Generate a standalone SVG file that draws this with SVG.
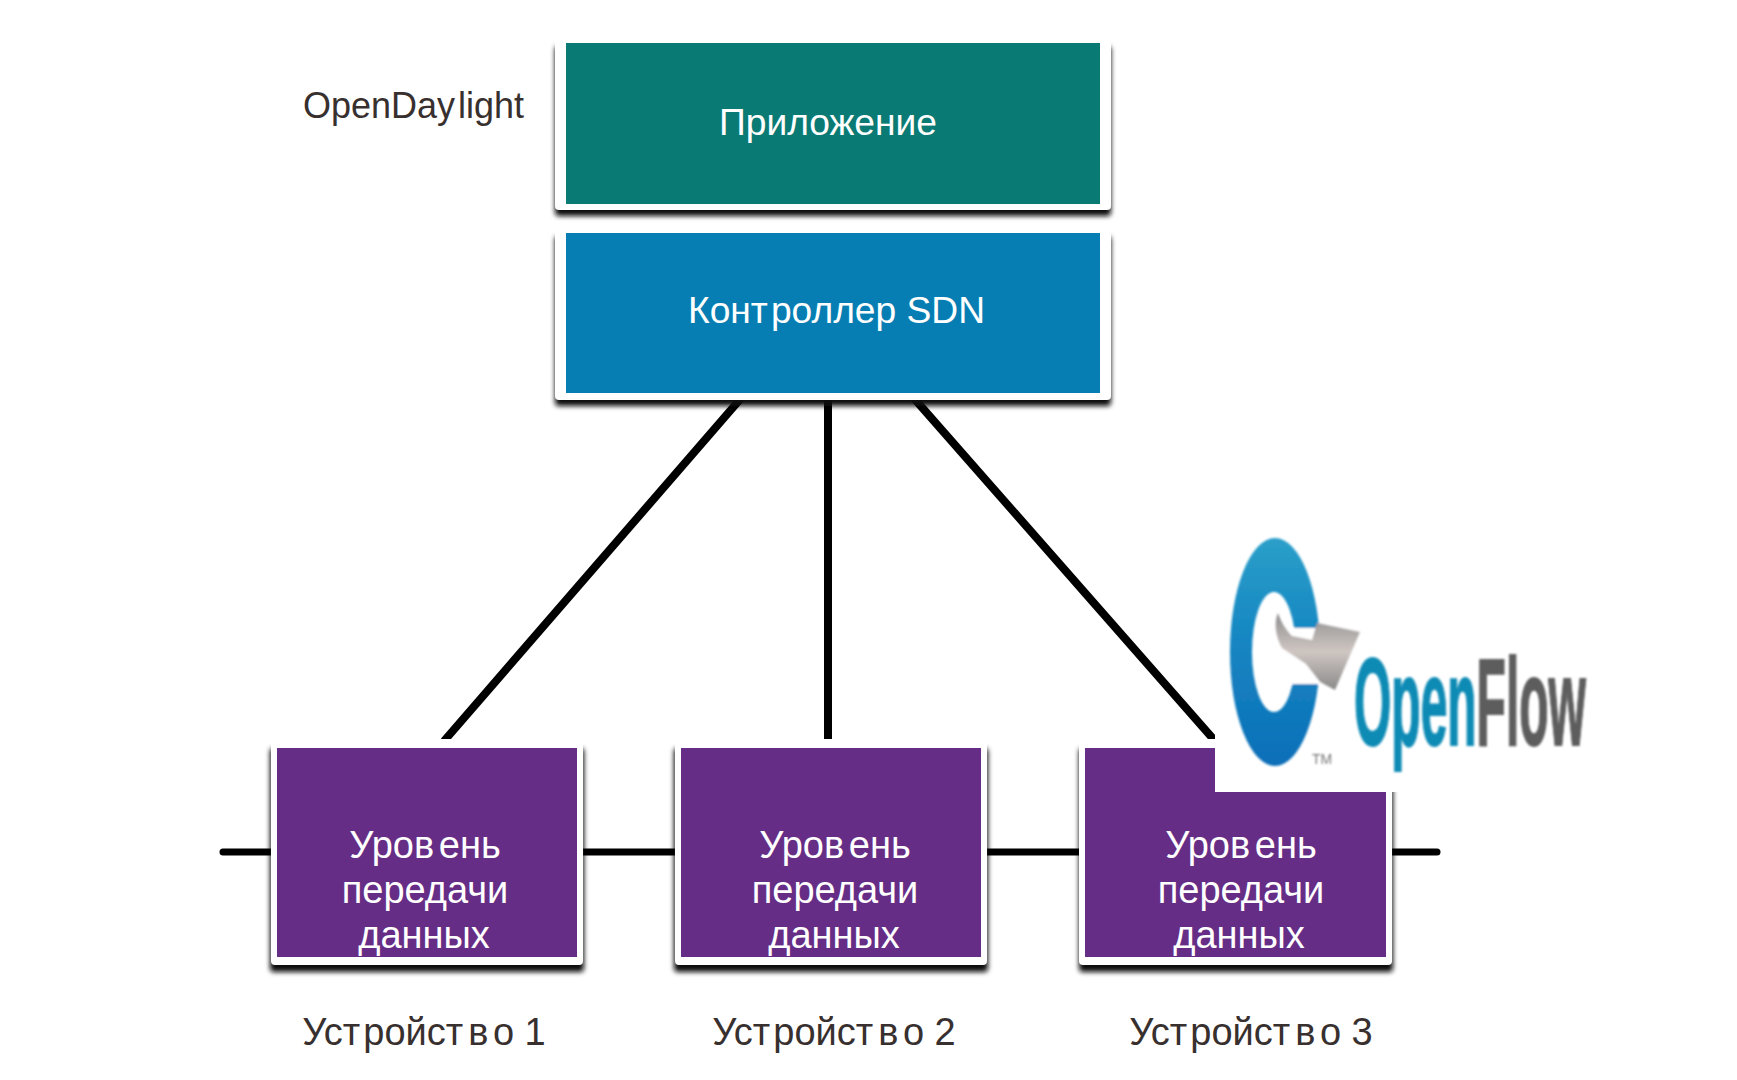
<svg xmlns="http://www.w3.org/2000/svg" width="1737" height="1080" viewBox="0 0 1737 1080">
<style>
text{font-family:"Liberation Sans",Arial,sans-serif}
.w{fill:#fff;font-size:38px}
.t{fill:#fff;font-size:37px}
.d{fill:#38302f;font-size:38px}
.frame{fill:#fff}
.sh{fill:#111;filter:url(#blur)}
.link{stroke:#000;stroke-width:8;fill:none}
</style>
<defs>
<filter id="blur" x="-5%" y="-5%" width="110%" height="110%"><feGaussianBlur stdDeviation="2.5"/></filter>
<filter id="soft" x="-5%" y="-5%" width="110%" height="110%"><feGaussianBlur stdDeviation="0.9"/></filter>
<clipPath id="cut"><rect x="0" y="395" width="1737" height="344"/></clipPath>
<linearGradient id="ring" x1="0" y1="0" x2="0" y2="1"><stop offset="0" stop-color="#2b9fc9"/><stop offset=".45" stop-color="#1586c2"/><stop offset="1" stop-color="#0e6fb8"/></linearGradient>
<linearGradient id="arrow" x1="0" y1="0" x2="0" y2="1"><stop offset="0" stop-color="#8f8f8f"/><stop offset=".5" stop-color="#cfc6c2"/><stop offset="1" stop-color="#8a8a8a"/></linearGradient>
</defs>
<g id="connectors">
<path class="link" clip-path="url(#cut)" d="M743 396 444 741M828 396V741M912 396 1215 741"/>
<path class="link" style="stroke-width:7" stroke-linecap="round" d="M223 852H1437"/>
</g>
<g id="node-app">
<rect class="sh" x="555" y="46" width="556" height="170" rx="4"/>
<rect class="frame" x="555" y="38" width="556" height="172" rx="4"/>
<rect x="566" y="43" width="534" height="161" fill="#0a7a74"/>
<text class="t" x="719" y="135" textLength="218" lengthAdjust="spacingAndGlyphs">Приложение</text>
</g>
<g id="node-controller">
<rect class="sh" x="555" y="236" width="556" height="170" rx="4"/>
<rect class="frame" x="555" y="228" width="556" height="172" rx="4"/>
<rect x="566" y="233" width="534" height="160" fill="#077eb3"/>
<text class="t" x="688" y="323" textLength="297" lengthAdjust="spacingAndGlyphs">Конт<tspan dx="3">роллер SDN</tspan></text>
</g>
<g id="node-opendaylight"><text class="t" style="fill:#38302f" x="303" y="118" textLength="221" lengthAdjust="spacingAndGlyphs">OpenDay<tspan dx="3">light</tspan></text></g>
<g id="device-1">
<rect class="sh" x="270" y="748" width="314" height="224" rx="4"/>
<rect class="frame" x="271" y="741" width="312" height="224" rx="4"/>
<rect x="277" y="748" width="300" height="209" fill="#662d86"/>
<text class="w" text-anchor="middle" x="425" y="858">Уров<tspan dx="5">ень</tspan></text>
<text class="w" text-anchor="middle" x="425" y="903">передачи</text>
<text class="w" text-anchor="middle" x="424" y="948">данных</text>
<text class="d" text-anchor="middle" x="424" y="1045">Уст<tspan dx="3">ройст</tspan><tspan dx="5">в</tspan><tspan dx="5">о 1</tspan></text>
</g>
<g id="device-2">
<rect class="sh" x="674" y="748" width="314" height="224" rx="4"/>
<rect class="frame" x="675" y="741" width="312" height="224" rx="4"/>
<rect x="681" y="748" width="300" height="209" fill="#662d86"/>
<text class="w" text-anchor="middle" x="835" y="858">Уров<tspan dx="5">ень</tspan></text>
<text class="w" text-anchor="middle" x="835" y="903">передачи</text>
<text class="w" text-anchor="middle" x="834" y="948">данных</text>
<text class="d" text-anchor="middle" x="834" y="1045">Уст<tspan dx="3">ройст</tspan><tspan dx="5">в</tspan><tspan dx="5">о 2</tspan></text>
</g>
<g id="device-3">
<rect class="sh" x="1079" y="748" width="314" height="224" rx="4"/>
<rect class="frame" x="1079" y="741" width="313" height="224" rx="4"/>
<rect x="1085" y="748" width="301" height="209" fill="#662d86"/>
<text class="w" text-anchor="middle" x="1241" y="858">Уров<tspan dx="5">ень</tspan></text>
<text class="w" text-anchor="middle" x="1241" y="903">передачи</text>
<text class="w" text-anchor="middle" x="1239" y="948">данных</text>
<text class="d" text-anchor="middle" x="1251" y="1045">Уст<tspan dx="3">ройст</tspan><tspan dx="5">в</tspan><tspan dx="5">о 3</tspan></text>
</g>
<g id="openflow-logo">
<rect x="1215" y="730" width="228" height="62" fill="#fff"/>
<rect x="1230" y="530" width="360" height="200" fill="#fff"/>
<g filter="url(#soft)">
<path fill="url(#ring)" fill-rule="evenodd" d="M1230 652a45 114 0 1 0 90 0a45 114 0 1 0-90 0ZM1252 652a22 60 0 1 1 44 0a22 60 0 1 1-44 0Z"/>
<rect x="1292" y="628" width="32" height="56" fill="#fff"/>
<path fill="url(#arrow)" d="M1278 613C1274 622 1275 635 1282 648L1306 664 1320 682 1335 690 1360 632 1317 623 1312 640 1292 636C1286 630 1281 622 1278 613Z"/>
<text transform="translate(1354 745) scale(.387 1)" font-weight="700" font-size="124" stroke-width="2"><tspan fill="#0f8bb5" stroke="#0f8bb5">Open</tspan><tspan fill="#5d5d5d" stroke="#5d5d5d">Flow</tspan></text>
<text x="1312" y="764" font-size="14" fill="#777">TM</text>
</g>
</g>
</svg>
